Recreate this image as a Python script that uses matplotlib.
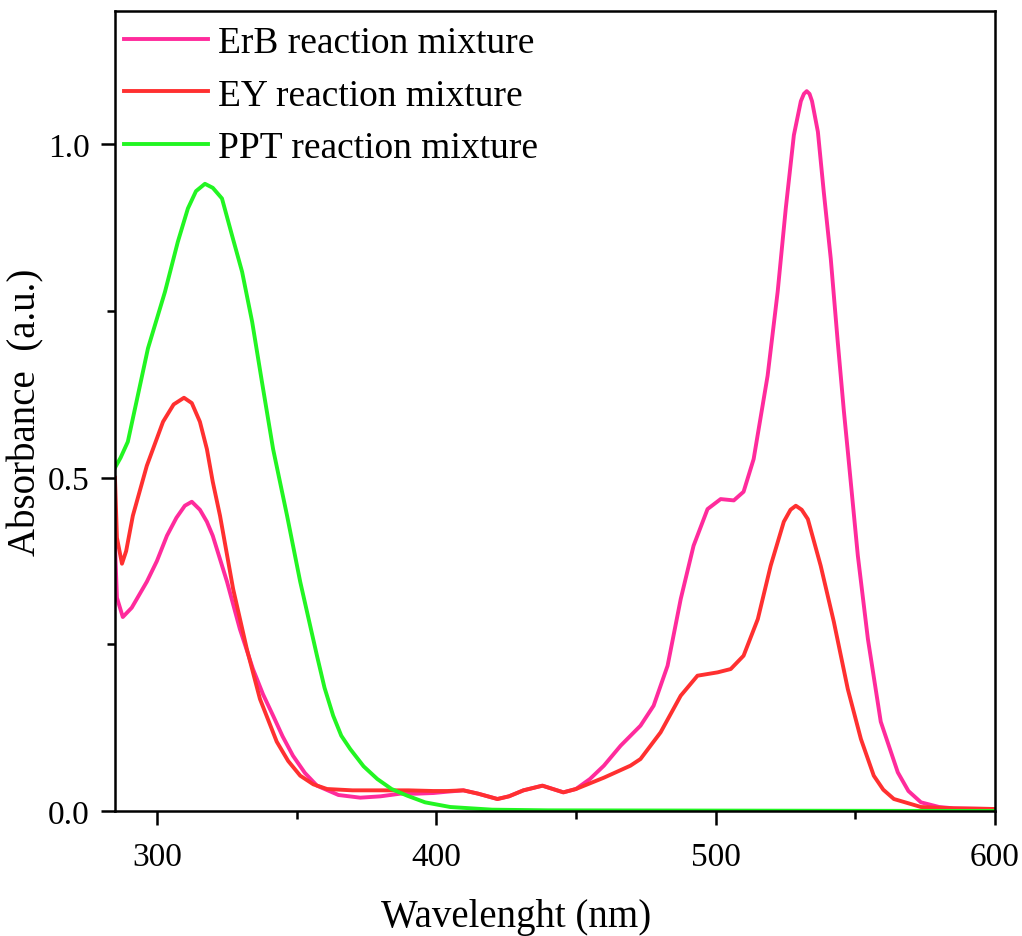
import matplotlib
matplotlib.use("Agg")
import matplotlib.pyplot as plt
from matplotlib.ticker import MultipleLocator, FormatStrFormatter

plt.rcParams['font.family'] = ['Liberation Serif', 'DejaVu Serif']

# ErB reaction mixture (pink)
erb_wl = [285, 285.7, 287.8, 291, 296.4, 300, 303.6, 307, 310, 312.5, 315.4, 317.9,
          320, 325.1, 329.7, 334.4, 338, 341.6, 345, 348.7, 353, 357.3, 365, 372.8, 380,
          387.1, 393, 399, 404, 409.7, 415, 421.9, 426, 431.2, 438, 441, 445.5, 450, 455,
          460, 466, 473.1, 477.8, 482.8, 487.5, 492.1, 497.1, 501.8, 506.5, 510, 513.6,
          518.6, 522.2, 525.1, 528, 530.5, 531.6, 532.6, 533.6, 534.5, 536.6, 538.7,
          541.2, 543.7, 545.9, 547.3, 550.9, 554.5, 559.1, 565.2, 569, 573.5, 580,
          585.3, 600]
erb_abs = [0.40, 0.32, 0.291, 0.305, 0.344, 0.375, 0.413, 0.44, 0.458, 0.464, 0.452, 0.434,
           0.413, 0.344, 0.273, 0.213, 0.175, 0.143, 0.112, 0.083, 0.057, 0.038, 0.024, 0.020,
           0.022, 0.026, 0.026, 0.027, 0.029, 0.031, 0.026, 0.018, 0.022, 0.031, 0.038, 0.034,
           0.028, 0.033, 0.048, 0.068, 0.098, 0.128, 0.158, 0.218, 0.318, 0.398, 0.453, 0.468,
           0.466, 0.479, 0.528, 0.653, 0.779, 0.904, 1.014, 1.065, 1.076, 1.080, 1.076, 1.065,
           1.019, 0.929, 0.829, 0.704, 0.60, 0.54, 0.383, 0.258, 0.134, 0.058, 0.03, 0.013,
           0.006, 0.004, 0.003]

# EY reaction mixture (red)
ey_wl = [285, 285.7, 287.5, 289, 291.4, 296.4, 302.2, 306, 309.7, 312.5, 315.4, 317.9,
         320, 322.6, 327.3, 332.2, 336.9, 342.9, 347, 351.3, 356, 360.9, 370, 380, 390,
         398.9, 404, 409.7, 415, 421.9, 426, 431.2, 438, 441, 445.5, 450, 460, 469.5,
         473.1, 480.3, 487.5, 493.5, 500.7, 505.4, 510, 515.1, 519.7, 524.4, 526.8,
         528.7, 530.8, 533, 537.6, 542.3, 547.3, 552, 556.6, 560, 563.8, 573.5, 585, 600]
ey_abs = [0.50, 0.41, 0.371, 0.39, 0.443, 0.518, 0.584, 0.61, 0.620, 0.612, 0.584, 0.543,
          0.494, 0.443, 0.333, 0.243, 0.168, 0.104, 0.075, 0.053, 0.040, 0.033, 0.031, 0.031,
          0.031, 0.030, 0.030, 0.031, 0.026, 0.018, 0.022, 0.031, 0.038, 0.034, 0.028, 0.033,
          0.05, 0.068, 0.078, 0.118, 0.173, 0.203, 0.208, 0.213, 0.233, 0.288, 0.368, 0.434,
          0.452, 0.458, 0.452, 0.438, 0.368, 0.284, 0.183, 0.108, 0.053, 0.032, 0.018, 0.006,
          0.004, 0.003]

# PPT reaction mixture (green)
ppt_wl = [285, 287, 289.6, 293, 296.8, 302.9, 307.5, 311.1, 314, 317.2, 320, 323.3,
          327.2, 330.5, 334.1, 337.6, 341.6, 346.6, 351.3, 357.3, 360, 363.1, 366, 369.2,
          374, 378.9, 384, 389.6, 396, 405, 420, 440, 600]
ppt_abs = [0.515, 0.53, 0.554, 0.62, 0.694, 0.779, 0.854, 0.904, 0.93, 0.941, 0.935, 0.919,
           0.859, 0.809, 0.734, 0.644, 0.543, 0.443, 0.344, 0.233, 0.185, 0.143, 0.113, 0.093,
           0.067, 0.048, 0.033, 0.023, 0.013, 0.006, 0.002, 0.001, 0.0]

fig = plt.figure(figsize=(10.22, 9.37), dpi=100)
ax = fig.add_axes([0.1125, 0.1334, 0.8611, 0.8536])

lw = 2.8
ax.plot(erb_wl, erb_abs, color='#ff2b9c', lw=lw, label='ErB reaction mixture')
ax.plot(ey_wl, ey_abs, color='#ff3030', lw=lw, label='EY reaction mixture')
ax.plot(ppt_wl, ppt_abs, color='#22f522', lw=lw, label='PPT reaction mixture')

ax.set_xlim(285, 600)
ax.set_ylim(0, 1.2)
ax.xaxis.set_major_locator(MultipleLocator(100))
ax.xaxis.set_minor_locator(MultipleLocator(50))
ax.yaxis.set_major_locator(MultipleLocator(0.5))
ax.yaxis.set_minor_locator(MultipleLocator(0.25))
ax.yaxis.set_major_formatter(FormatStrFormatter('%.1f'))

for s in ax.spines.values():
    s.set_linewidth(1.8)
ax.tick_params(which='both', direction='out', width=1.8, top=False, right=False)
ax.tick_params(which='major', length=10, labelsize=24, pad=8)
ax.tick_params(axis='x', which='major', pad=12)
ax.tick_params(which='minor', length=6)

ax.set_xlabel('Wavelenght (nm)', fontsize=28)
ax.xaxis.set_label_coords(0.456, -0.109)
ax.set_ylabel('Absorbance  (a.u.)', fontsize=28)
ax.yaxis.set_label_coords(-0.08, 0.5)

ax.legend(loc='upper left', bbox_to_anchor=(0.01, 0.9815), frameon=False, fontsize=27,
          handlelength=2.25, handletextpad=0.25, labelspacing=0.47, borderaxespad=0,
          borderpad=0)

fig.savefig('out.png', dpi=100)
